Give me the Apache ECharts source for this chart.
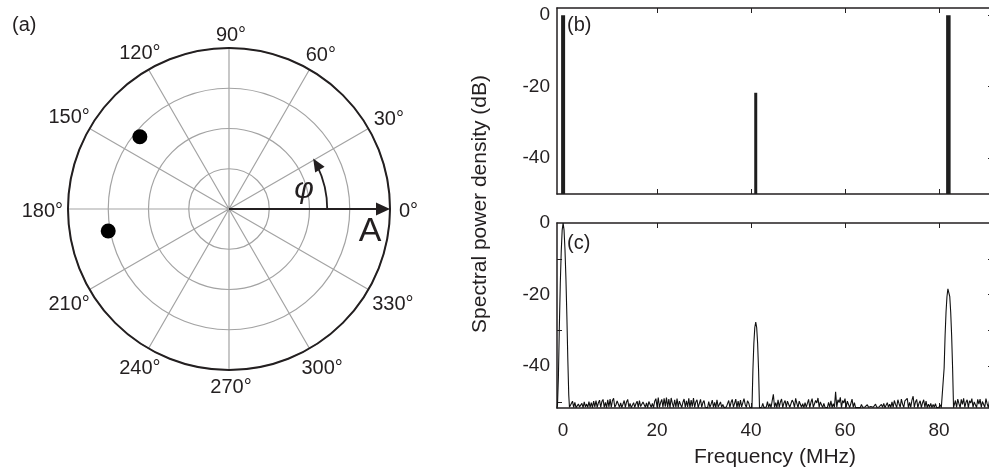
<!DOCTYPE html>
<html><head><meta charset="utf-8">
<script src="https://cdn.jsdelivr.net/npm/echarts@6/dist/echarts.min.js"></script>
<style>html,body{margin:0;padding:0;background:#fff}#c{width:989px;height:467px}</style>
</head><body><div id="c"></div>
<script>
// ---------- data ----------
const angleLabelsDeg = [0, 30, 60, 90, 120, 150, 180, 210, 240, 270, 300, 330];
const ringCount = 4;
const pointRadius = [2.85, 3.05];
const pointAngle = [141, 190.3];
const phiArcAngle = 31;   // degrees spanned by the phi arrow
const freqTicks = [0, 20, 40, 60, 80];
const dbTicks = [0, -20, -40];
const stemFreq = [0, 41, 82];
const stemDb = [0, -21.7, 0];
const freqStep = 0.25;
const peak0 = [[-1.3, -51.6], [-1.2, -51.0], [-1.0, -43], [-0.8, -29], [-0.6, -17], [-0.4, -8], [-0.2, -2], [0, 0], [0.2, -2], [0.4, -7.5], [0.6, -15.5], [0.8, -26], [1.0, -38], [1.2, -48], [1.35, -51.5], [1.5, -51.6]];
const noise1Start = 1.75;
const noise1 = [
 -51.5,-49.8,-51.5,-50.1,-51.6,-51.5,-50.6,-51.4,
 -51.5,-50.4,-51.6,-50.0,-51.4,-50.6,-51.5,-49.9,
 -51.5,-50.2,-51.6,-49.8,-51.4,-49.6,-51.5,-50.3,
 -49.5,-51.5,-49.9,-49.3,-51.5,-50.1,-51.6,-49.4,
 -51.4,-49.2,-51.5,-49.6,-49.0,-51.5,-50.8,-49.7,
 -49.4,-51.5,-50.3,-51.6,-51.4,-49.6,-51.5,-50.0,
 -49.3,-51.5,-50.4,-51.6,-51.5,-50.2,-51.5,-50.5,
 -49.8,-51.5,-49.6,-51.3,-51.6,-50.0,-49.5,-51.5,
 -50.3,-51.6,-49.9,-49.6,-51.5,-50.4,-51.6,-49.8,
 -49.1,-51.5,-48.8,-51.5,-50.2,-49.3,-51.5,-49.0,
 -51.3,-48.8,-51.5,-49.2,-51.6,-48.9,-50.4,-51.5,
 -49.4,-51.5,-49.1,-51.5,-49.8,-49.3,-51.6,-50.1,
 -49.2,-51.5,-49.7,-51.4,-49.0,-51.6,-49.5,-51.3,
 -48.9,-51.5,-50.0,-49.4,-51.6,-51.3,-49.3,-51.5,
 -50.2,-49.6,-51.5,-51.4,-51.6,-49.9,-51.5,-50.6,
 -49.5,-51.5,-50.1,-51.6,-49.4,-51.4,-51.6,-50.0,
 -51.5,-50.7,-51.6,-51.5,-51.4,-51.6,-49.6,-51.5,
 -50.1,-49.3,-51.5,-50.4,-49.2,-51.6,-49.8,-51.5,
 -49.5,-51.4,-51.6,-49.1,-50.7,-51.5,-49.7,-50.3,
 -51.5,-51.6];
const peak41 = [[40.2, -51.6], [40.4, -41], [40.6, -33.6], [40.8, -29.2], [41.0, -27.7], [41.2, -29.2], [41.4, -33.6], [41.6, -41], [41.8, -51.6]];
const noise2Start = 42.0;
const noise2 = [
 -51.6,-51.5,-50.4,-51.6,-51.5,-51.4,-49.9,-51.5,
 -50.5,-51.6,-49.7,-47.9,-51.5,-50.2,-51.6,-49.4,
 -51.5,-50.0,-49.2,-51.6,-50.3,-49.6,-51.5,-49.8,
 -49.3,-51.5,-51.6,-49.5,-50.1,-51.5,-49.0,-50.4,
 -51.6,-49.8,-49.4,-51.5,-50.5,-51.6,-50.2,-51.5,
 -51.4,-49.3,-51.6,-50.1,-49.1,-51.5,-51.6,-49.6,
 -50.3,-48.9,-51.5,-50.0,-49.5,-51.6,-50.4,-51.5,
 -51.4,-51.6,-50.1,-51.5,-49.7,-51.6,-50.5,-51.5,
 -47.2,-51.5,-49.4,-50.2,-48.7,-51.6,-49.6,-50.3,
 -49.1,-51.5,-49.8,-49.3,-51.6,-50.4,-49.2,-51.5,
 -50.2,-51.6,-51.5,-51.6,-51.4,-51.6,-50.7,-51.5,
 -51.6,-51.4,-51.6,-50.8,-51.5,-51.6,-51.3,-51.6,
 -51.5,-51.6,-50.6,-51.5,-51.6,-51.4,-51.6,-50.7,
 -51.5,-50.4,-51.6,-51.5,-50.2,-51.5,-50.6,-51.6,
 -50.0,-51.5,-49.6,-50.7,-51.6,-49.4,-50.5,-51.5,
 -49.2,-50.6,-51.5,-49.7,-50.2,-49.0,-51.6,-50.1,
 -51.5,-49.5,-48.4,-51.5,-50.0,-49.3,-51.6,-50.4,
 -49.7,-51.6,-50.3,-49.4,-51.5,-49.8,-51.6,-50.6,
 -51.5,-50.4,-51.6,-50.7,-51.5,-50.5,-51.6,-51.4,
 -51.5,-50.8,-51.6,-51.6];
const peak82 = [[80.9, -51.6], [81.1, -40.5], [81.3, -31.6], [81.5, -25], [81.7, -20.6], [81.9, -18.4], [82.0, -18.1], [82.1, -18.4], [82.3, -20.6], [82.5, -25], [82.7, -31.6], [82.9, -40.5], [83.1, -51.6]];
const noise3Start = 83.25;
const noise3 = [
 -51.6,-49.6,-51.5,-49.2,-50.5,-51.6,-49.3,-50.7,
 -49.0,-51.5,-50.1,-49.4,-51.6,-49.7,-50.3,-49.1,
 -51.5,-50.0,-49.5,-51.6,-49.3,-50.6,-49.2,-51.5,
 -49.9,-49.4,-51.5,-49.1,-50.5,-51.6,-49.6,-50.2];

// ---------- build ----------
const noisePairs = (start, arr) => arr.map((v, i) => [+(start + i * freqStep).toFixed(3), v]);
const spectrum = [].concat(peak0, noisePairs(noise1Start, noise1), peak41,
  noisePairs(noise2Start, noise2), peak82, noisePairs(noise3Start, noise3));

const FONT = '"Liberation Sans", Arial, sans-serif';
const INK = '#231f20';
const xMin = -1.3, xMax = 91.5;
const bMin = -50, bMax = 2;
const cMin = -51.7, cMax = 0;
const stemWidths = [4, 3, 4.5];
const GRID_LEFT = 557, GRID_W = 436;

const chart = echarts.init(document.getElementById('c'), null, {renderer: 'canvas'});

function xAx(gridIndex, pos, labels) {
  return {
    type: 'value', gridIndex, position: pos, min: xMin, max: xMax,
    axisLine: {show: true, onZero: false, lineStyle: {color: INK, width: 1.5}},
    axisTick: {show: true, inside: true, length: 5, customValues: freqTicks.slice(1), lineStyle: {color: INK, width: 1}},
    axisLabel: labels ? {show: true, customValues: freqTicks, fontSize: 19, fontFamily: FONT, color: INK, margin: 13} : {show: false},
    splitLine: {show: false}
  };
}
function yAx(gridIndex, pos, min, max, labels, ticks) {
  return {
    type: 'value', gridIndex, position: pos, min, max,
    axisLine: {show: true, onZero: false, lineStyle: {color: INK, width: 1.5}},
    axisTick: {show: ticks.length > 0, inside: true, length: 5, customValues: ticks, lineStyle: {color: INK, width: 1}},
    axisLabel: labels ? {show: true, customValues: dbTicks, fontSize: 19, fontFamily: FONT, color: INK, margin: 7} : {show: false},
    splitLine: {show: false}
  };
}

const option = {
  animation: false,
  backgroundColor: '#fff',
  textStyle: {fontFamily: FONT},
  polar: {center: [229, 209], radius: 161},
  angleAxis: {
    type: 'value', min: 0, max: 360, interval: 30, startAngle: 0, clockwise: false,
    axisLine: {show: true, lineStyle: {color: INK, width: 2}},
    axisTick: {show: false},
    axisLabel: {show: false},
    splitLine: {show: true, lineStyle: {color: '#a3a3a3', width: 1.2}}
  },
  radiusAxis: {
    type: 'value', min: 0, max: ringCount, interval: 1,
    axisLine: {show: false}, axisTick: {show: false}, axisLabel: {show: false},
    splitLine: {show: true, lineStyle: {color: '#a3a3a3', width: 1.2}}
  },
  grid: [
    {left: GRID_LEFT, top: 8, width: GRID_W, height: 186, show: false, outerBoundsMode: 'none', containLabel: false},
    {left: GRID_LEFT, top: 223, width: GRID_W, height: 185, show: false, outerBoundsMode: 'none', containLabel: false}
  ],
  xAxis: [
    xAx(0, 'bottom', false),
    xAx(0, 'top', false),
    Object.assign(xAx(1, 'bottom', true), {name: 'Frequency (MHz)', nameLocation: 'middle', nameGap: 39,
      nameTextStyle: {fontSize: 21, fontFamily: FONT, color: INK}}),
    xAx(1, 'top', false)
  ],
  yAxis: [
    yAx(0, 'left', bMin, bMax, true, []),
    yAx(0, 'right', bMin, bMax, false, [0, -20, -40]),
    yAx(1, 'left', cMin, cMax, true, [-10, -30, -50]),
    yAx(1, 'right', cMin, cMax, false, [-10, -20, -30, -40])
  ],
  series: [
    {
      type: 'custom', xAxisIndex: 0, yAxisIndex: 0, clip: true,
      data: stemFreq.map((f, i) => [f, stemDb[i]]),
      renderItem: function (params, api) {
        const top = api.coord([api.value(0), api.value(1)]);
        const bot = api.coord([api.value(0), bMin]);
        const w = stemWidths[params.dataIndex];
        return {type: 'rect', shape: {x: top[0] - w / 2, y: top[1], width: w, height: bot[1] - top[1]},
          style: {fill: '#1e1e1e'}};
      }
    },
    {
      type: 'line', xAxisIndex: 2, yAxisIndex: 2, data: spectrum, showSymbol: false, symbol: 'none',
      lineStyle: {color: '#111', width: 1.1}, clip: true
    },
    {
      type: 'scatter', coordinateSystem: 'polar', symbol: 'circle', symbolSize: 15,
      itemStyle: {color: '#000', opacity: 1},
      data: pointRadius.map((r, i) => [r, pointAngle[i]])
    }
  ]
};
chart.setOption(option);

// annotations in the polar panel placed through the polar coordinate system
const c0 = chart.convertToPixel({seriesIndex: 2}, [0, 0]);
const cA = chart.convertToPixel({seriesIndex: 2}, [ringCount, 0]);
const R = cA[0] - c0[0];
const arcR = R * 0.61;
const a1 = phiArcAngle * Math.PI / 180;
const aLine = (phiArcAngle - 5) * Math.PI / 180;
const tip = [c0[0] + arcR * Math.cos(a1), c0[1] - arcR * Math.sin(a1)];
const dir = [-Math.sin(a1), -Math.cos(a1)];
const nrm = [dir[1], -dir[0]];
const hl = 13, hw = 5.5;
const base = [tip[0] - dir[0] * hl, tip[1] - dir[1] * hl];

// angle labels, centred just outside the outer ring
const mctx = document.createElement('canvas').getContext('2d');
const LABEL_FONT = '20px ' + FONT;
mctx.font = LABEL_FONT;
const angleLabelEls = angleLabelsDeg.map(deg => {
  const txt = deg + '°';
  const w = mctx.measureText(txt).width;
  const rad = deg * Math.PI / 180;
  const dist = R + 15 + Math.max(0, w / 2 - 8) * Math.abs(Math.cos(rad));
  const p = chart.convertToPixel({seriesIndex: 2}, [ringCount * dist / R, deg]);
  return {type: 'text', x: p[0] + 2, y: p[1] + 2, style: {text: txt, font: LABEL_FONT, fill: INK, align: 'center', verticalAlign: 'middle'}};
});

chart.setOption({
  graphic: angleLabelEls.concat([
    {type: 'line', shape: {x1: c0[0], y1: c0[1], x2: cA[0] - 12, y2: cA[1]}, style: {stroke: INK, lineWidth: 1.8}, z: 10},
    {type: 'polygon', shape: {points: [[cA[0], cA[1]], [cA[0] - 14, cA[1] - 6.5], [cA[0] - 14, cA[1] + 6.5]]}, style: {fill: INK}, z: 10},
    {type: 'arc', shape: {cx: c0[0], cy: c0[1], r: arcR, startAngle: -aLine, endAngle: 0, clockwise: true},
      style: {stroke: INK, lineWidth: 1.8, fill: null}, z: 10},
    {type: 'polygon', shape: {points: [tip, [base[0] + nrm[0] * hw, base[1] + nrm[1] * hw], [base[0] - nrm[0] * hw, base[1] - nrm[1] * hw]]},
      style: {fill: INK}, z: 10},
    {type: 'text', x: 370, y: 232, style: {text: 'A', font: '34px ' + FONT, fill: INK, align: 'center', verticalAlign: 'middle'}, z: 10},
    {type: 'text', x: 304, y: 190, style: {text: 'φ', font: 'italic 30px "Liberation Sans", Arial, sans-serif', fill: INK, align: 'center', verticalAlign: 'middle'}, z: 10},
    {type: 'text', x: 12, y: 25, style: {text: '(a)', font: '20px ' + FONT, fill: INK, align: 'left', verticalAlign: 'middle'}},
    {type: 'text', x: 567, y: 25, style: {text: '(b)', font: '20px ' + FONT, fill: INK, align: 'left', verticalAlign: 'middle'}},
    {type: 'text', x: 567, y: 243, style: {text: '(c)', font: '20px ' + FONT, fill: INK, align: 'left', verticalAlign: 'middle'}},
    {type: 'text', x: 480, y: 204, rotation: Math.PI / 2,
      style: {text: 'Spectral power density (dB)', font: '21px ' + FONT, fill: INK, align: 'center', verticalAlign: 'middle'}}
  ])
});
</script></body></html>
